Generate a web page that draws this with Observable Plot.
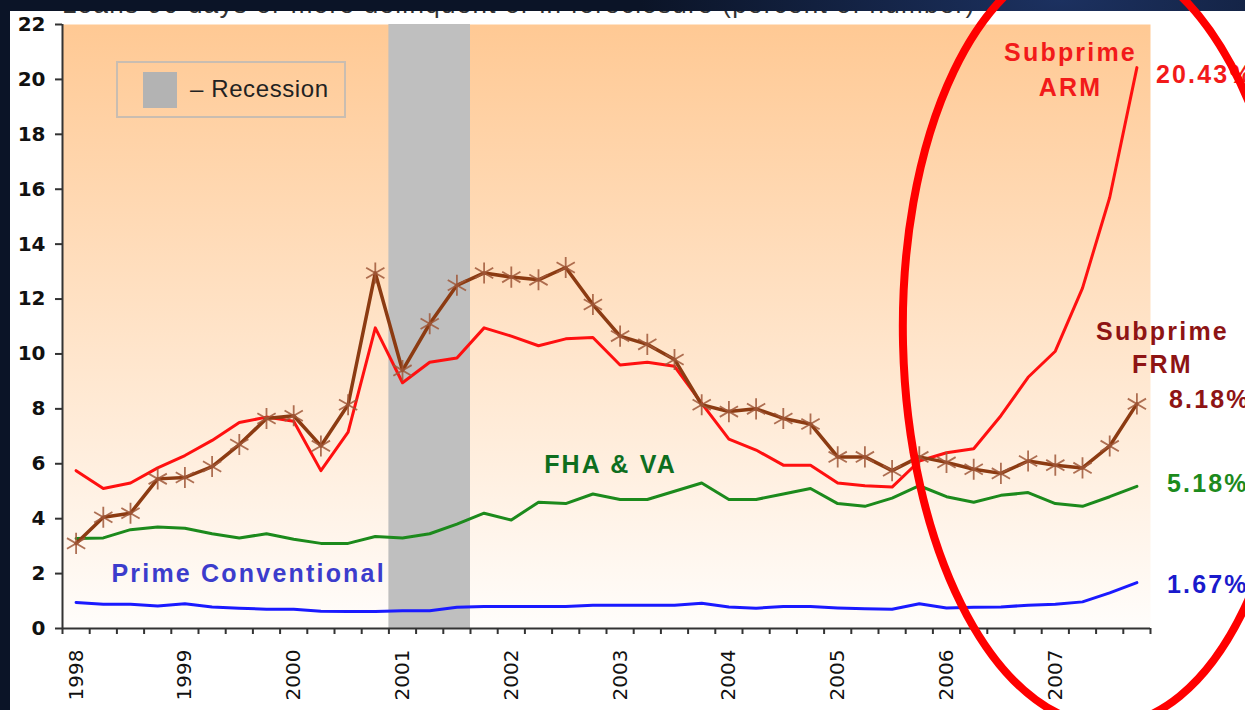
<!DOCTYPE html>
<html>
<head>
<meta charset="utf-8">
<script src="https://cdn.jsdelivr.net/npm/d3@7"></script>
<script src="https://cdn.jsdelivr.net/npm/@observablehq/plot@0.6"></script>
<style>
html, body { margin: 0; padding: 0; }
body {
  width: 1245px; height: 710px; overflow: hidden; position: relative;
  background: radial-gradient(ellipse 420px 160px at 1060px 0px, #1c3160 0%, #0b1427 100%), #0a1122;
  font-family: "Liberation Sans", Arial, sans-serif;
}
#panel { position: absolute; left: 10px; top: 11px; width: 1235px; height: 699px; background: #ffffff; overflow: hidden; }
#title { position: absolute; left: 52px; top: -20px; font-size: 26px; line-height: 26px; color: #333; white-space: nowrap; letter-spacing: 1.3px; }
#chart { position: absolute; left: 0; top: 0; }
#legend { position: absolute; left: 116px; top: 61px; width: 226px; height: 53px; border: 2px solid #c9bdb1; }
#legend .swatch { position: absolute; left: 25px; top: 9px; width: 34px; height: 36px; background: #b3b3b3; }
#legend .label { position: absolute; left: 72px; top: 12px; font-size: 24px; line-height: 28px; color: #222; letter-spacing: 0.6px; white-space: nowrap; }
#overlay { position: absolute; left: 0; top: 0; pointer-events: none; }
</style>
</head>
<body>
<svg width="0" height="0" style="position:absolute">
  <defs>
    <linearGradient id="plotBg" x1="0" y1="0" x2="0" y2="1">
      <stop offset="0" stop-color="#ffc994"/>
      <stop offset="1" stop-color="#fffdfb"/>
    </linearGradient>
  </defs>
</svg>
<div id="panel"><div id="title">Loans 90 days or more delinquent or in foreclosure (percent of number)</div></div>
<div id="chart"></div>
<div id="legend"><div class="swatch"></div><div class="label">– Recession</div></div>
<svg id="overlay" width="1245" height="710">
  <ellipse cx="1099" cy="340" rx="196" ry="385" transform="rotate(-1.4 1099 340)" fill="none" stroke="#ff0000" stroke-width="8"/>
</svg>
<script>
// ---- data ----
const quarters = [
  "1998Q1","1998Q2","1998Q3","1998Q4","1999Q1","1999Q2","1999Q3","1999Q4",
  "2000Q1","2000Q2","2000Q3","2000Q4","2001Q1","2001Q2","2001Q3","2001Q4",
  "2002Q1","2002Q2","2002Q3","2002Q4","2003Q1","2003Q2","2003Q3","2003Q4",
  "2004Q1","2004Q2","2004Q3","2004Q4","2005Q1","2005Q2","2005Q3","2005Q4",
  "2006Q1","2006Q2","2006Q3","2006Q4","2007Q1","2007Q2","2007Q3","2007Q4"
];
const yearLabels = ["1998","1999","2000","2001","2002","2003","2004","2005","2006","2007"];
const yTicks = [0, 2, 4, 6, 8, 10, 12, 14, 16, 18, 20, 22];

const subprimeARM = [5.75,5.1,5.3,5.85,6.3,6.85,7.5,7.7,7.55,5.75,7.15,10.95,8.95,9.7,9.85,10.95,
  10.65,10.3,10.55,10.6,9.6,9.7,9.55,8.2,6.9,6.5,5.95,5.95,5.3,5.2,5.15,6.1,6.4,6.55,7.75,9.15,10.1,12.4,15.7,20.43];
const subprimeFRM = [3.1,4.05,4.2,5.45,5.5,5.9,6.7,7.65,7.75,6.65,8.15,12.95,9.4,11.1,12.5,12.95,
  12.8,12.7,13.15,11.8,10.65,10.35,9.8,8.15,7.9,8.0,7.65,7.45,6.25,6.25,5.75,6.25,6.05,5.8,5.65,6.1,5.95,5.85,6.65,8.18];
const fhaVA = [3.28,3.3,3.6,3.7,3.65,3.45,3.3,3.45,3.25,3.1,3.1,3.35,3.3,3.45,3.8,4.2,
  3.95,4.6,4.55,4.9,4.7,4.7,5.0,5.3,4.7,4.7,4.9,5.1,4.55,4.45,4.75,5.2,4.8,4.6,4.85,4.95,4.55,4.45,4.8,5.18];
const primeConv = [0.95,0.88,0.88,0.82,0.9,0.78,0.74,0.7,0.7,0.63,0.62,0.62,0.65,0.65,0.77,0.8,
  0.8,0.8,0.8,0.85,0.85,0.85,0.85,0.92,0.78,0.74,0.8,0.8,0.75,0.72,0.7,0.9,0.75,0.77,0.78,0.85,0.88,0.97,1.3,1.67];
const recession = [{start: "2001Q1", end: "2001Q3"}];

// ---- derived positions ----
const qi = q => quarters.indexOf(q);
const yearPos = yearLabels.map(y => qi(y + "Q1"));
const boundaries = quarters.map((q, i) => i - 0.5).concat([quarters.length - 0.5]);
const last = quarters.length - 1;
const idx = (d, i) => i;
const pct = v => v.toFixed(2) + "%";

const labelFont = {fontSize: 25, fontWeight: "bold"};

const chart = Plot.plot({
  width: 1245,
  height: 710,
  marginLeft: 62,
  marginRight: 95,
  marginTop: 24,
  marginBottom: 82,
  style: {background: "transparent", fontFamily: "'Liberation Sans', Arial, sans-serif", overflow: "visible", color: "#111"},
  x: {type: "linear", domain: [-0.5, quarters.length - 0.5]},
  y: {domain: [0, 22]},
  marks: [
    Plot.frame({fill: "url(#plotBg)", stroke: "none"}),
    Plot.rect(recession, {x1: d => qi(d.start) - 0.5, x2: d => qi(d.end) + 0.5, y1: 0, y2: 22, fill: "#bfbfbf"}),
    Plot.line(primeConv, {x: idx, y: d => d, stroke: "#1a1aff", strokeWidth: 3}),
    Plot.line(fhaVA, {x: idx, y: d => d, stroke: "#1c8a1c", strokeWidth: 3}),
    Plot.line(subprimeARM, {x: idx, y: d => d, stroke: "#ff1010", strokeWidth: 3}),
    Plot.line(subprimeFRM, {x: idx, y: d => d, stroke: "#8c3b12", strokeWidth: 3.5}),
    Plot.dot(subprimeFRM, {x: idx, y: d => d, symbol: "asterisk", r: 10, stroke: "#a0583a", strokeWidth: 1.8, strokeOpacity: 0.85}),
    Plot.ruleY([0], {stroke: "#333", strokeWidth: 2}),
    Plot.ruleX([-0.5], {stroke: "#333", strokeWidth: 2}),
    Plot.axisY(yTicks, {tickSize: 7, tickPadding: 10, fontSize: 20, fontWeight: "bold", label: null, strokeWidth: 2, stroke: "#333", fill: "#111"}),
    Plot.axisX(boundaries, {tickSize: 6, tickFormat: () => "", label: null, strokeWidth: 2, stroke: "#333"}),
    Plot.axisX(yearPos, {tickSize: 0, tickPadding: 21, tickRotate: -90, tickFormat: i => yearLabels[yearPos.indexOf(i)], fontSize: 20, label: null, fill: "#111"}),
    // series labels
    Plot.text(["Subprime\nARM"], {x: 36.56, y: 20.45, text: d => d, fill: "#f21a1a", lineHeight: 1.4, ...labelFont}),
    Plot.text(["Subprime\nFRM"], {x: 39.94, y: 10.3, text: d => d, fill: "#8e1414", lineHeight: 1.32, ...labelFont}),
    Plot.text(["FHA & VA"], {x: 19.65, y: 5.97, text: d => d, fill: "#0e6e1e", ...labelFont}),
    Plot.text(["Prime Conventional"], {x: 1.3, y: 2.0, text: d => d, fill: "#3c3ccc", textAnchor: "start", ...labelFont}),
    // end values
    Plot.text([subprimeARM[last]], {x: last, y: d => d, text: pct, dx: 19, dy: 7, textAnchor: "start", fill: "#f21a1a", ...labelFont}),
    Plot.text([subprimeFRM[last]], {x: last, y: d => d, text: pct, dx: 32, dy: -4, textAnchor: "start", fill: "#8e1414", ...labelFont}),
    Plot.text([fhaVA[last]], {x: last, y: d => d, text: pct, dx: 30, dy: -2, textAnchor: "start", fill: "#1c8a1c", ...labelFont}),
    Plot.text([primeConv[last]], {x: last, y: d => d, text: pct, dx: 30, dy: 2, textAnchor: "start", fill: "#1a1acc", ...labelFont})
  ]
});

// text styling (inline, so it wins over Plot's own defaults)
const yTickStrings = yTicks.map(String);
d3.select(chart).selectAll("text").each(function () {
  const t = this.textContent;
  const s = d3.select(this);
  if (yearLabels.includes(t)) {
    s.style("font-family", "'DejaVu Sans', sans-serif").style("font-size", "20px").style("font-weight", "normal");
  } else if (yTickStrings.includes(t)) {
    s.style("font-family", "'DejaVu Sans', sans-serif").style("font-size", "20px").style("font-weight", "bold");
  } else {
    s.style("letter-spacing", "2.2px");
  }
});
document.getElementById("chart").appendChild(chart);
</script>
</body>
</html>
